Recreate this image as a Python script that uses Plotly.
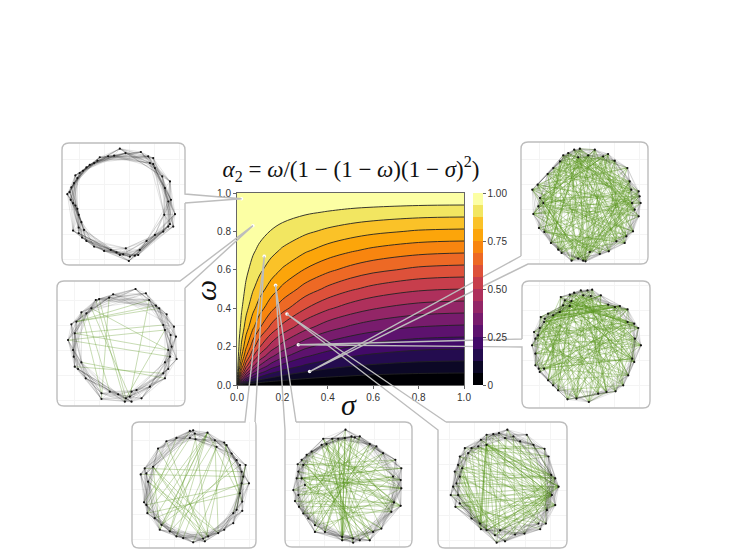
import plotly.graph_objects as go

SIGMA = [0, .01, .02, .04, .07, .1, .15, .2, .3, .4, .5, .6, .8, 1]
OMEGA = [0, .01, .02, .04, .07, .1, .15, .2, .3, .4, .5, .6, .7, .8, .9, 1]
ALPHA = [
 [0]*14,
 [1,.337,.203,.114,.070,.0505,.035,.027,.019,.016,.013,.012,.010,.010],
 [1,.506,.340,.207,.131,.097,.068,.054,.038,.031,.026,.024,.021,.020],
 [1,.677,.513,.347,.236,.180,.131,.104,.076,.061,.053,.047,.042,.04],
 [1,.791,.655,.490,.358,.284,.213,.173,.129,.105,.091,.082,.073,.07],
 [1,.848,.737,.586,.451,.369,.286,.236,.179,.148,.129,.117,.104,.1],
 [1,.899,.817,.693,.566,.482,.389,.329,.257,.216,.190,.174,.155,.15],
 [1,.926,.863,.761,.649,.568,.474,.410,.329,.281,.25,.229,.207,.2],
 [1,.956,.915,.845,.760,.693,.607,.543,.457,.401,.364,.338,.309,.3],
 [1,.971,.944,.895,.831,.778,.706,.649,.567,.510,.471,.442,.410,.4],
 [1,.981,.962,.927,.881,.840,.783,.735,.662,.610,.571,.543,.510,.5],
 [1,.987,.974,.950,.917,.888,.844,.806,.746,.701,.667,.641,.610,.6],
 [1,.992,.983,.968,.945,.925,.894,.866,.821,.785,.757,.735,.709,.7],
 [1,.995,.990,.981,.967,.955,.935,.917,.887,.862,.842,.826,.806,.8],
 [1,.998,.996,.991,.985,.979,.970,.962,.946,.934,.923,.915,.904,.9],
 [1]*14,
]
BAND_COLORS = ["#000004","#0c0826","#240c4f","#420a68","#5d126e","#781c6d","#932667","#ae305c",
               "#c73e4c","#dd513a","#ed6925","#f8850f","#fca50a","#fac228","#f2e661","#fcffa4"]
TARGET_SIGMA = [.02, .07, .12, .17, .22, .27, .32]
TARGET_OMEGA = [.97, .83, .67, .52, .37, .21, .07]
COLORBAR_TICKS = [0, .25, .5, .75, 1]
COLORBAR_LABELS = ["0", "0.25", "0.50", "0.75", "1.00"]

P1_NODES = [(195,42),(212,55),(178,63),(160,65),(135,68),(128,78),(118,85),(105,90),(95,98),(85,108),(75,115),(62,122),(68,130),(58,145),(50,158),(45,172),(38,178),(48,195),(55,205),(62,212),(68,222),(72,240),(80,262),(72,278),(55,287),(88,285),(72,295),(82,308),(95,318),(118,335),(148,348),(168,345),(185,352),(195,360),(205,358),(213,340),(222,378),(225,365),(240,362),(250,360),(255,345),(275,318),(300,300),(325,290),(340,275),(345,268),(355,275),(360,238),(328,240),(340,200),(348,195),(330,160),(345,140),(322,125),(300,100),(295,88),(285,85),(295,70),(280,65),(258,52)]
P1_GREEN = []
P2_NODES = [(257,42),(288,55),(298,75),(318,92),(328,100),(350,118),(372,155),(340,150),(345,165),(362,180),(378,185),(365,215),(355,225),(380,252),(360,245),(345,262),(355,282),(340,295),(345,310),(300,335),(275,370),(260,345),(245,350),(240,365),(228,370),(225,380),(245,380),(205,358),(180,350),(155,355),(155,372),(108,310),(85,282),(75,275),(95,262),(72,245),(70,225),(55,195),(75,175),(65,148),(80,140),(95,112),(110,115),(125,100),(138,75),(148,72),(178,68),(190,58)]
P2_GREEN = [(43,23),(44,25),(42,28),(45,24),(46,30),(40,3),(37,14),(33,17),(34,18),(2,23),(8,24),(7,38),(4,40),(43,12),(41,29),(38,12),(40,2),(8,37)]
P3_NODES = [(205,45),(195,47),(210,55),(195,68),(212,72),(248,52),(270,75),(298,82),(275,95),(305,90),(320,115),(335,135),(345,150),(362,150),(350,170),(355,185),(372,205),(350,205),(345,235),(352,260),(335,285),(325,295),(352,288),(325,325),(298,345),(280,355),(250,365),(235,372),(240,380),(205,383),(175,370),(155,365),(135,350),(105,345),(110,330),(90,310),(68,295),(65,270),(58,262),(70,200),(48,178),(65,175),(60,160),(85,155),(100,100),(125,78),(155,68)]
P3_GREEN = [(5,34),(5,33),(5,32),(5,31),(5,35),(5,36),(4,32),(6,33),(43,33),(43,27),(43,26),(43,25),(39,25),(39,26),(41,27),(7,18),(7,19),(13,21),(13,20),(8,30),(8,31),(44,26),(45,27),(3,37),(1,38),(46,36),(10,29),(11,32),(12,34),(17,35),(18,36),(16,37),(15,40),(14,42),(9,28),(6,25),(2,26),(5,19)]
P4_NODES = [(662,45),(660,70),(640,72),(622,72),(595,72),(605,88),(590,90),(560,110),(545,120),(530,135),(518,148),(535,150),(520,170),(515,190),(530,190),(540,210),(505,225),(520,240),(510,258),(522,275),(535,295),(550,310),(570,330),(570,350),(600,350),(652,365),(652,375),(685,370),(685,382),(705,375),(735,375),(745,350),(770,340),(800,290),(828,272),(808,262),(830,220),(828,195),(830,160),(805,185),(812,135),(775,115),(755,95),(735,88),(705,65),(690,68),(680,65)]
P4_GREEN = [(1,25),(1,26),(0,25),(2,25),(2,26),(46,25),(46,26),(3,25),(15,31),(15,30),(15,32),(14,32),(14,31),(6,33),(6,34),(5,35),(4,35),(3,36),(2,37),(7,36),(8,37),(9,37),(10,38),(11,40),(12,35),(13,36),(16,39),(17,36),(18,35),(19,34),(20,33),(21,41),(22,42),(23,43),(24,44),(24,45),(25,41),(25,43),(26,44),(27,5),(27,6),(28,7),(29,8),(30,9),(30,3),(31,11),(31,4),(32,2),(33,1),(33,5),(34,8),(35,9),(36,12),(36,14),(37,15),(38,13),(39,17),(40,19),(40,14),(41,20),(41,17),(42,21),(42,16),(43,18),(43,23),(44,22),(44,19),(45,20),(46,24),(0,22),(1,20),(2,21),(3,19),(3,29),(4,27),(5,28),(6,26),(7,24),(8,22),(9,30),(10,33),(11,34),(12,25),(13,37),(14,38),(16,34),(18,33),(20,35),(22,34),(23,36),(24,39),(26,32),(4,30)]
P5_NODES = [(1147,45),(1122,55),(1105,58),(1085,60),(1068,75),(1085,90),(1060,95),(1040,100),(1020,100),(1030,115),(1005,125),(1000,150),(1012,160),(990,170),(1005,185),(995,205),(985,215),(978,240),(1000,240),(992,275),(1005,265),(1040,310),(1065,325),(1068,342),(1085,345),(1110,360),(1115,382),(1140,378),(1125,345),(1170,358),(1198,355),(1240,325),(1245,342),(1262,325),(1265,285),(1290,270),(1280,240),(1300,215),(1290,190),(1278,180),(1270,125),(1258,102),(1225,90),(1205,60),(1185,80),(1165,65),(1140,70)]
P5_GREEN = [(5,37),(5,37),(5,36),(5,38),(6,37),(5,39),(4,36),(7,38),(5,24),(5,25),(5,23),(5,22),(5,28),(4,24),(6,23),(36,11),(36,14),(37,15),(36,17),(37,18),(36,19),(37,20),(38,12),(36,21),(36,22),(37,24),(36,25),(35,28),(36,28),(35,22),(37,26),(38,23),(43,39),(44,36),(45,37),(46,38),(0,36),(1,37),(2,36),(3,38),(8,37),(9,36),(10,36),(13,38),(16,37),(0,34),(42,34),(41,33),(43,31),(44,30),(45,29),(46,27),(0,26),(1,25),(2,24),(3,22),(3,23),(7,22),(8,21),(9,24),(10,23),(11,22),(11,25),(12,21),(12,24),(13,24),(14,22),(14,27),(15,28),(15,23),(16,26),(17,29),(18,30),(18,22),(19,31),(20,32),(7,29),(6,30),(5,31),(4,32),(3,33),(2,34),(9,35),(10,34),(11,33),(12,35),(13,31),(14,33),(8,41),(9,42),(7,40),(6,39),(10,39),(12,40),(14,38),(15,39),(17,35),(19,35),(20,36),(21,37),(22,38),(23,36),(24,35),(25,37),(26,36),(27,38),(28,39),(29,36),(30,38),(24,36),(24,37),(5,36),(5,35),(6,36),(4,37),(5,40),(5,41)]
P6_NODES = [(232,463),(218,465),(198,465),(178,472),(165,478),(138,485),(150,495),(170,497),(165,512),(145,510),(135,530),(115,540),(100,535),(90,550),(78,545),(88,560),(75,578),(58,590),(70,600),(62,610),(52,630),(62,655),(62,690),(72,700),(88,700),(75,710),(100,735),(115,750),(130,765),(158,792),(185,790),(222,800),(250,775),(275,770),(302,768),(325,750),(340,720),(358,680),(352,670),(378,630),(360,610),(370,578),(358,565),(338,560),(338,522),(315,512),(300,515),(280,508),(258,480),(228,482),(205,480)]
P6_GREEN = [(0,25),(0,30),(1,22),(1,33),(2,27),(2,36),(3,24),(3,38),(4,29),(4,40),(5,21),(5,34),(6,26),(6,37),(7,23),(7,31),(8,28),(8,42),(9,20),(9,35),(10,32),(10,41),(11,33),(11,44),(12,30),(12,38),(13,34),(13,45),(14,36),(14,27),(15,33),(15,46),(16,39),(16,29),(17,41),(17,31),(18,37),(18,47),(19,43),(19,32),(20,40),(20,48),(21,39),(21,44),(22,42),(22,49),(23,45),(23,38),(24,47),(24,36),(25,43),(25,50),(26,46),(26,41),(27,44),(27,48),(28,49),(28,40),(29,47),(29,42),(30,45),(30,50),(31,48),(31,43),(32,46),(32,0),(33,49),(33,2),(34,44),(34,3),(35,47),(35,4),(36,50),(36,5),(37,46),(37,6),(38,0),(38,8),(39,1),(39,10),(40,2),(40,11),(41,3),(41,7),(42,5),(42,9),(43,6),(43,12),(44,7),(44,14),(45,9),(45,13),(46,8),(46,15),(47,10),(47,16),(48,12),(48,17),(49,11),(49,18),(50,14),(50,19),(0,16),(1,17),(2,18),(3,19),(4,20),(5,26),(6,22),(7,28),(8,24),(9,30),(10,26),(11,27),(12,28),(13,29),(14,30),(15,31),(16,32),(17,33),(18,34),(19,35),(20,36),(21,37),(22,38),(23,39),(24,40),(25,41),(26,42),(27,43),(28,44),(29,45),(30,46),(31,47),(32,48),(33,50),(34,49),(35,0),(36,1),(37,2),(38,3),(39,4),(40,5),(41,6),(42,7),(43,8),(44,9),(45,10),(46,11),(47,12),(48,13),(49,14),(50,15),(13,38),(16,41),(19,39),(21,40),(24,38),(26,36),(28,35),(29,34),(31,33),(30,1),(32,3),(28,5),(27,9),(25,11),(23,12),(22,14),(20,42),(18,43),(17,44),(15,45),(12,47),(10,48),(7,49),(5,50),(13,33),(11,30),(14,37),(16,36),(19,42),(21,45),(24,43),(26,44),(29,39),(31,40),(34,40),(36,41),(37,44),(35,45),(33,46),(12,35),(10,37),(8,39),(6,41),(4,44)]
P7_NODES = [(195,42),(178,45),(160,55),(145,62),(135,80),(115,100),(98,118),(68,150),(52,165),(75,190),(85,205),(70,215),(55,238),(72,280),(88,292),(108,325),(130,345),(140,355),(170,378),(190,372),(205,378),(212,380),(225,352),(255,358),(282,350),(305,320),(330,325),(335,305),(355,290),(372,245),(360,225),(378,205),(352,205),(375,185),(372,170),(350,165),(345,140),(338,100),(300,78),(280,58),(265,65),(240,45),(220,62),(190,68)]
P7_GREEN = [(0,15),(0,22),(0,28),(1,18),(1,25),(1,33),(2,16),(2,21),(2,30),(3,19),(3,27),(3,35),(4,17),(4,24),(4,31),(5,20),(5,26),(5,37),(6,23),(6,29),(6,38),(7,19),(7,25),(7,32),(8,22),(8,28),(8,36),(9,21),(9,30),(9,39),(10,24),(10,27),(10,35),(11,20),(11,29),(11,41),(12,26),(12,31),(12,38),(13,23),(13,33),(13,42),(14,25),(14,30),(14,37),(15,28),(15,34),(15,43),(16,27),(16,32),(16,40),(17,29),(17,35),(17,41),(18,30),(18,36),(18,43),(19,31),(19,38),(19,42),(20,33),(20,39),(20,2),(21,32),(21,37),(21,43),(22,34),(22,40),(22,5),(23,35),(23,41),(23,1),(24,36),(24,42),(24,3),(25,38),(25,43),(25,6),(26,39),(26,0),(26,7),(27,40),(27,2),(27,8),(28,41),(28,4),(28,10),(29,42),(29,1),(29,9),(30,43),(30,5),(30,12),(31,0),(31,7),(31,11),(32,3),(32,8),(32,13),(33,5),(33,9),(33,14),(34,2),(34,10),(34,16),(35,6),(35,12),(35,18),(36,4),(36,11),(36,19),(37,1),(37,8),(37,15),(38,3),(38,13),(38,20),(39,7),(39,14),(39,22),(40,5),(40,11),(40,18),(41,0),(41,9),(41,16),(42,6),(42,12),(42,21),(43,4),(43,10),(43,17),(14,3),(16,6),(18,8),(20,10),(22,12),(24,14),(26,16),(28,18),(30,20),(32,22),(34,24),(36,26),(38,28),(40,30),(42,32),(0,34),(2,36),(4,38),(6,40),(8,42),(10,0),(12,2),(14,4),(16,9),(0,12),(1,11),(2,13),(3,14),(4,15),(5,16),(6,17),(7,18),(8,19),(9,20),(10,21),(11,22),(12,23),(13,24),(14,26),(15,27),(16,29),(17,31),(18,33),(19,34),(20,35),(21,36),(22,36),(23,37),(24,38),(25,39),(26,40),(27,41),(28,42),(29,43),(30,0),(31,1),(32,2),(33,3),(34,4),(35,5),(36,6),(37,7),(38,8),(39,9),(40,10),(41,12),(42,14),(43,15),(0,20),(3,23),(6,26),(9,28),(12,33),(15,36),(18,39),(21,41),(24,43),(27,1)]

W, H = 754, 558
MAIN = dict(l=237, r=464, t=193, b=385)


def fx(px):
    return px / W


def fy(py):
    return 1 - py / H


def target_px(i):
    return (MAIN["l"] + TARGET_SIGMA[i] * (MAIN["r"] - MAIN["l"]),
            MAIN["b"] - TARGET_OMEGA[i] * (MAIN["b"] - MAIN["t"]))


PANELS = [
    dict(rect=(62, 143, 185, 265), win=(22, 390, 25, 390), nodes=P1_NODES, green=P1_GREEN, k=8,
         side="right", gap=(194, 203), target=0),
    dict(rect=(57, 281, 185, 406), win=(22, 405, 18, 393), nodes=P2_NODES, green=P2_GREEN, k=7,
         side="tr", gap=((180, 281), (185, 288)), target=1),
    dict(rect=(132, 422, 256, 548), win=(22, 393, 20, 400), nodes=P3_NODES, green=P3_GREEN, k=7,
         side="top", gap=(245, 255), target=2),
    dict(rect=(285, 422, 412, 547), win=(480, 862, 22, 395), nodes=P4_NODES, green=P4_GREEN, k=7,
         side="tl", gap=((285, 430), (296, 422)), target=3),
    dict(rect=(438, 422, 567, 548), win=(940, 1325, 22, 398), nodes=P5_NODES, green=P5_GREEN, k=7,
         side="tl", gap=((438, 430), (446, 422)), target=4),
    dict(rect=(522, 281, 650, 408), win=(22, 405, 437, 818), nodes=P6_NODES, green=P6_GREEN, k=5,
         side="left", gap=(339, 347), target=5),
    dict(rect=(521, 142, 648, 264), win=(18, 400, 22, 388), nodes=P7_NODES, green=P7_GREEN, k=5,
         side="bl", gap=((521, 256), (528, 264)), target=6),
]

R = 7


def outline(p):
    """Rounded box as an open outline that runs out to the target and back."""
    l, t, r, b = p["rect"]
    tx, ty = target_px(p["target"])
    pts = []

    def M(x, y): pts.append(f"M{fx(x):.5f},{fy(y):.5f}")
    def L(x, y): pts.append(f"L{fx(x):.5f},{fy(y):.5f}")
    def Q(cx, cy, x, y): pts.append(f"Q{fx(cx):.5f},{fy(cy):.5f} {fx(x):.5f},{fy(y):.5f}")

    s, g = p["side"], p["gap"]
    if s == "right":
        M(r, g[1]); L(r, b - R); Q(r, b, r - R, b); L(l + R, b); Q(l, b, l, b - R)
        L(l, t + R); Q(l, t, l + R, t); L(r - R, t); Q(r, t, r, t + R); L(r, g[0])
    elif s == "left":
        M(l, g[0]); L(l, t + R); Q(l, t, l + R, t); L(r - R, t); Q(r, t, r, t + R)
        L(r, b - R); Q(r, b, r - R, b); L(l + R, b); Q(l, b, l, b - R); L(l, g[1])
    elif s == "top":
        M(g[1], t); Q(r, t, r, t + R)
        L(r, b - R); Q(r, b, r - R, b); L(l + R, b); Q(l, b, l, b - R)
        L(l, t + R); Q(l, t, l + R, t); L(g[0], t)
    elif s == "tr":
        M(*g[1]); L(r, b - R); Q(r, b, r - R, b); L(l + R, b); Q(l, b, l, b - R)
        L(l, t + R); Q(l, t, l + R, t); L(*g[0])
    elif s == "tl":
        M(*g[1]); L(r - R, t); Q(r, t, r, t + R); L(r, b - R); Q(r, b, r - R, b)
        L(l + R, b); Q(l, b, l, b - R); L(*g[0])
    elif s == "bl":
        M(*g[0]); L(l, t + R); Q(l, t, l + R, t); L(r - R, t); Q(r, t, r, t + R)
        L(r, b - R); Q(r, b, r - R, b); L(*g[1])
    L(tx, ty)
    pts.append(pts[0].replace("M", "L"))
    return " ".join(pts)


n_bands = len(BAND_COLORS)
band_scale = []
for k, c in enumerate(BAND_COLORS):
    band_scale += [[k / n_bands, c], [(k + 1) / n_bands, c]]

tick = dict(family="Liberation Sans", size=10, color="#333")

fig = go.Figure()
fig.add_trace(go.Contour(
    x=SIGMA, y=OMEGA, z=ALPHA, zmin=0, zmax=1, colorscale=band_scale,
    contours=dict(start=0, end=1, size=1 / n_bands, coloring="fill", showlines=False),
    line=dict(width=0), hoverinfo="skip",
    colorbar=dict(x=473 / W, xanchor="left", xpad=0, ypad=0, y=fy(385), yanchor="bottom",
                  len=192 / H, thickness=10, outlinewidth=0, tickmode="array",
                  tickvals=COLORBAR_TICKS, ticktext=COLORBAR_LABELS, ticks="outside",
                  ticklen=3, tickcolor="#666", tickfont=tick),
))
fig.add_trace(go.Contour(
    x=SIGMA, y=OMEGA, z=ALPHA, zmin=0, zmax=1, showscale=False,
    contours=dict(start=1 / n_bands, end=1 - 1 / n_bands, size=1 / n_bands, coloring="lines"),
    colorscale=[[0, "#222"], [1, "#222"]], line=dict(width=.9), hoverinfo="skip",
))
fig.add_trace(go.Scatter(x=TARGET_SIGMA, y=TARGET_OMEGA, mode="markers", showlegend=False,
                         marker=dict(color="white", size=3.5), hoverinfo="skip"))

shapes = []
layout_axes = {}
for i, p in enumerate(PANELS):
    n = i + 2
    xa, ya = f"x{n}", f"y{n}"
    l, t, r, b = p["rect"]
    x0, x1, y0, y1 = p["win"]
    layout_axes[f"xaxis{n}"] = dict(domain=[fx(l), fx(r)], range=[x0, x1], anchor=ya, automargin=False,
                                    showticklabels=False, ticks="", zeroline=False,
                                    showgrid=True, gridcolor="#f4f4f4", dtick=75, showline=False)
    layout_axes[f"yaxis{n}"] = dict(domain=[fy(b), fy(t)], range=[y1, y0], anchor=xa, automargin=False,
                                    showticklabels=False, ticks="", zeroline=False,
                                    showgrid=True, gridcolor="#f4f4f4", dtick=75, showline=False)
    nodes = p["nodes"]
    m = len(nodes)
    gx, gy = [], []
    for a, c in p["green"]:
        gx += [nodes[a][0], nodes[c][0], None]
        gy += [nodes[a][1], nodes[c][1], None]
    if gx:
        fig.add_trace(go.Scatter(x=gx, y=gy, xaxis=xa, yaxis=ya, mode="lines", showlegend=False,
                                 line=dict(color="rgba(90,150,30,0.42)", width=.8), hoverinfo="skip"))
    kx, ky = [], []
    for a in range(m):
        for d in range(1, p["k"] + 1):
            c = (a + d) % m
            kx += [nodes[a][0], nodes[c][0], None]
            ky += [nodes[a][1], nodes[c][1], None]
    fig.add_trace(go.Scatter(x=kx, y=ky, xaxis=xa, yaxis=ya, mode="lines", showlegend=False,
                             line=dict(color="rgba(30,30,30,0.17)", width=.7), hoverinfo="skip"))
    fig.add_trace(go.Scatter(x=[q[0] for q in nodes], y=[q[1] for q in nodes], xaxis=xa, yaxis=ya,
                             mode="markers", showlegend=False, marker=dict(color="#111", size=2.2),
                             hoverinfo="skip"))
    shapes.append(dict(type="path", xref="paper", yref="paper", path=outline(p),
                       line=dict(color="#bdbdbd", width=1.4), fillcolor="rgba(0,0,0,0)", layer="above"))

big = dict(family="Liberation Serif", color="#111")
fig.update_layout(
    width=W, height=H, margin=dict(l=0, r=0, t=0, b=0), autosize=False,
    paper_bgcolor="white", plot_bgcolor="white", showlegend=False,
    title=dict(text="<i>α</i><sub>2</sub> = <i>ω</i>/(1 − (1 − <i>ω</i>)(1 − <i>σ</i>)<sup>2</sup>)",
               x=351 / W, xanchor="center", y=fy(169), yanchor="middle",
               font=dict(family="Liberation Serif", size=23, color="#111")),
    xaxis=dict(domain=[fx(MAIN["l"]), fx(MAIN["r"])], range=[0, 1], anchor="y", automargin=False,
               tickvals=[0, .2, .4, .6, .8, 1], tickformat=".1f", ticks="outside", ticklen=3,
               tickcolor="#666", showline=True, linecolor="#666", linewidth=1, mirror=True,
               showgrid=False, zeroline=False, tickfont=tick),
    yaxis=dict(domain=[fy(MAIN["b"]), fy(MAIN["t"])], range=[0, 1], anchor="x", automargin=False,
               tickvals=[0, .2, .4, .6, .8, 1], tickformat=".1f", ticks="outside", ticklen=3,
               tickcolor="#666", showline=True, linecolor="#666", linewidth=1, mirror=True,
               showgrid=False, zeroline=False, tickfont=tick),
    annotations=[
        dict(text="<i>σ</i>", x=fx(349), y=fy(404), xref="paper", yref="paper", showarrow=False,
             xanchor="center", yanchor="middle", font=dict(size=30, **big)),
        dict(text="<i>ω</i>", x=fx(205), y=fy(290), xref="paper", yref="paper", showarrow=False,
             xanchor="center", yanchor="middle", textangle=-90, font=dict(size=30, **big)),
    ],
    shapes=shapes, **layout_axes,
)
fig.write_html("out.html", config={"displayModeBar": False},
               post_script="document.body.style.margin='0';")
